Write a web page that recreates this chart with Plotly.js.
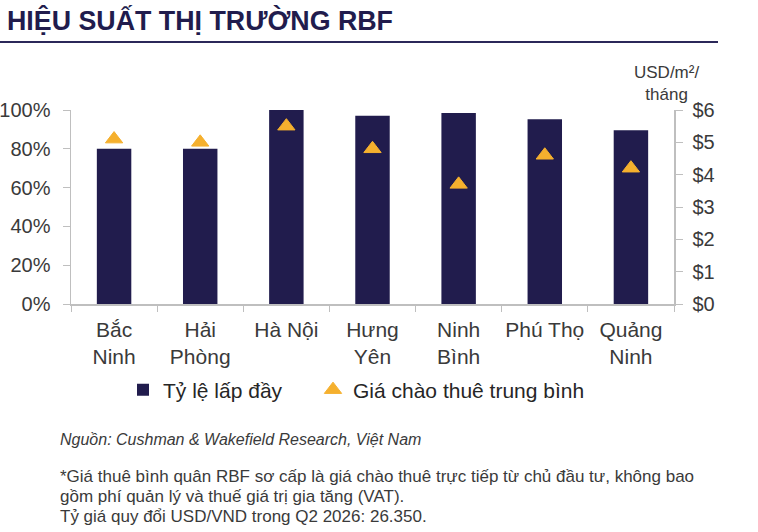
<!DOCTYPE html>
<html>
<head>
<meta charset="utf-8">
<script src="https://cdn.plot.ly/plotly-3.0.1.min.js"></script>
<style>
  html, body { margin: 0; padding: 0; background: #ffffff; }
  #chart { width: 758px; height: 532px; }
</style>
</head>
<body>
<div id="chart"></div>
<script>
// dữ liệu
const provinces = ['Bắc<br>Ninh', 'Hải<br>Phòng', 'Hà Nội', 'Hưng<br>Yên', 'Ninh<br>Bình', 'Phú Thọ', 'Quảng<br>Ninh'];
const occupancy = [0.80, 0.80, 1.00, 0.97, 0.985, 0.952, 0.895];
const askingRent = [5.1, 5.0, 5.5, 4.8, 3.7, 4.6, 4.2];

const seriesNames = ['Tỷ lệ lấp đầy', 'Giá chào thuê trung bình'];
const titleText = 'HIỆU SUẤT THỊ TRƯỜNG RBF';
const unitText = 'USD/m²/<br>tháng';
const sourceText = 'Nguồn: Cushman & Wakefield Research, Việt Nam';
const noteLines = [
  '*Giá thuê bình quân RBF sơ cấp là giá chào thuê trực tiếp từ chủ đầu tư, không bao',
  'gồm phí quản lý và thuế giá trị gia tăng (VAT).',
  'Tỷ giá quy đổi USD/VND trong Q2 2026: 26.350.'
];

const FONT = 'Liberation Sans, Arial, Helvetica, sans-serif';
const NAVY = '#211c4d';
const GOLD = '#f5b02e';
const AXIS = '#bfbfbf';
const TEXT = '#3a3a3a';

// vùng vẽ: x 71..674, y 110..304 (px)
const W = 758, H = 532, L = 71, R = 674, T = 110, B = 304;
const px = x => (x - L) / (R - L);
const py = y => (B - y) / (B - T);

const bars = {
  x: provinces,
  y: occupancy,
  name: seriesNames[0],
  type: 'bar',
  marker: { color: NAVY },
  legend: 'legend',
  hoverinfo: 'x+y'
};

const rent = {
  x: provinces,
  y: askingRent,
  name: seriesNames[1],
  type: 'scatter',
  mode: 'markers',
  yaxis: 'y2',
  legend: 'legend2',
  marker: { symbol: 'triangle-up', size: 15, color: GOLD, line: { color: GOLD, width: 1 } }
};

const annotations = [
  { text: '<b>' + titleText + '</b>', x: px(5), y: py(20), xanchor: 'left', yanchor: 'middle', align: 'left',
    font: { family: FONT, size: 26.8, color: NAVY } },
  { text: unitText, x: px(666), y: py(83), xanchor: 'center', yanchor: 'middle', align: 'center',
    font: { family: FONT, size: 17, color: TEXT } },
  { text: '<i>' + sourceText + '</i>', x: px(58), y: py(439), xanchor: 'left', yanchor: 'middle', align: 'left',
    font: { family: FONT, size: 16, color: TEXT } }
];
const noteY = [476, 496, 516];
noteLines.forEach((line, i) => {
  annotations.push({ text: line, x: px(58), y: py(noteY[i]), xanchor: 'left', yanchor: 'middle', align: 'left',
    font: { family: FONT, size: 17, color: TEXT } });
});
annotations.forEach(a => { a.xref = 'paper'; a.yref = 'paper'; a.showarrow = false; });

const legendBase = {
  orientation: 'h',
  yanchor: 'middle', y: py(390),
  xanchor: 'left',
  font: { family: FONT, size: 21, color: '#262626' },
  itemwidth: 30
};

const layout = {
  width: W,
  height: H,
  margin: { l: L, r: W - R, t: T, b: H - B, pad: 0 },
  paper_bgcolor: '#ffffff',
  plot_bgcolor: '#ffffff',
  font: { family: FONT, color: TEXT },
  bargap: 0.6,
  showlegend: true,
  legend: Object.assign({}, legendBase, { x: px(123) }),
  legend2: Object.assign({}, legendBase, { x: px(313) }),
  xaxis: {
    showline: true, linecolor: AXIS, linewidth: 1.5,
    ticks: 'outside', tickson: 'boundaries', ticklen: 6, tickcolor: AXIS,
    tickangle: 0, ticklabelstandoff: 6,
    tickfont: { family: FONT, size: 21, color: TEXT },
    showgrid: false, zeroline: false, fixedrange: true
  },
  yaxis: {
    range: [0, 1], dtick: 0.2, tickformat: '.0%',
    showline: true, linecolor: AXIS, linewidth: 1.5,
    ticks: 'outside', ticklen: 7, tickcolor: AXIS,
    ticklabelstandoff: 8,
    tickfont: { family: FONT, size: 20, color: TEXT },
    showgrid: false, zeroline: false, fixedrange: true
  },
  yaxis2: {
    overlaying: 'y', side: 'right',
    range: [0, 6], dtick: 1, tickprefix: '$',
    showline: true, linecolor: AXIS, linewidth: 1.5,
    ticks: 'outside', ticklen: 7, tickcolor: AXIS,
    ticklabelstandoff: 6,
    tickfont: { family: FONT, size: 20, color: TEXT },
    showgrid: false, zeroline: false, fixedrange: true
  },
  shapes: [
    { type: 'line', xref: 'paper', yref: 'paper', x0: px(0), x1: px(718), y0: py(42), y1: py(42),
      line: { color: '#2b2859', width: 2 } }
  ],
  annotations
};

Plotly.newPlot('chart', [bars, rent], layout, { displayModeBar: false, staticPlot: true });
</script>
</body>
</html>
